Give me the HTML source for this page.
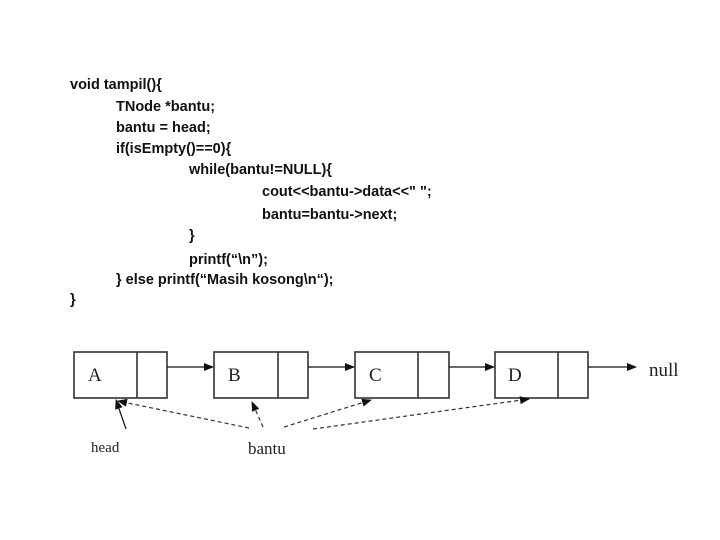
<!DOCTYPE html>
<html><head><meta charset="utf-8"><style>
body{margin:0;background:#fff;width:720px;height:540px;overflow:hidden;position:relative}
.c{position:absolute;font-family:"Liberation Sans",sans-serif;font-weight:bold;font-size:14.5px;color:#111;white-space:pre;line-height:16px}
</style></head><body>
<div class="c" style="left:70px;top:77px">void tampil(){</div>
<div class="c" style="left:116px;top:99px">TNode *bantu;</div>
<div class="c" style="left:116px;top:120px">bantu = head;</div>
<div class="c" style="left:116px;top:141px">if(isEmpty()==0){</div>
<div class="c" style="left:189px;top:162px">while(bantu!=NULL){</div>
<div class="c" style="left:262px;top:184px">cout&lt;&lt;bantu-&gt;data&lt;&lt;" ";</div>
<div class="c" style="left:262px;top:207px">bantu=bantu-&gt;next;</div>
<div class="c" style="left:189px;top:228px">}</div>
<div class="c" style="left:189px;top:252px">printf(“\n”);</div>
<div class="c" style="left:116px;top:272px">} else printf(“Masih kosong\n“);</div>
<div class="c" style="left:70px;top:292px">}</div>
<svg width="720" height="540" style="position:absolute;left:0;top:0" font-family="Liberation Serif,serif">
<defs><marker id="a" markerWidth="10" markerHeight="8" refX="9" refY="4" orient="auto" markerUnits="userSpaceOnUse"><path d="M0,0L10,4L0,8z" fill="#111"/></marker></defs>
<g fill="none" stroke="#333" stroke-width="1.6">
<rect x="74" y="352" width="93" height="46"/><line x1="137" y1="352" x2="137" y2="398"/>
<rect x="214" y="352" width="94" height="46"/><line x1="278" y1="352" x2="278" y2="398"/>
<rect x="355" y="352" width="94" height="46"/><line x1="418" y1="352" x2="418" y2="398"/>
<rect x="495" y="352" width="93" height="46"/><line x1="558" y1="352" x2="558" y2="398"/>
</g>
<g stroke="#111" stroke-width="1.2" marker-end="url(#a)">
<line x1="167" y1="367" x2="213" y2="367"/>
<line x1="308" y1="367" x2="354" y2="367"/>
<line x1="449" y1="367" x2="494" y2="367"/>
<line x1="588" y1="367" x2="636" y2="367"/>
<line x1="126" y1="429" x2="116" y2="400"/>
</g>
<g stroke="#333" stroke-width="1.2" stroke-dasharray="4,3" marker-end="url(#a)">
<line x1="249" y1="428" x2="118" y2="401"/>
<line x1="263" y1="427" x2="252" y2="402"/>
<line x1="284" y1="427" x2="371" y2="400"/>
<line x1="313" y1="429" x2="529" y2="399"/>
</g>
<g font-size="19" fill="#222">
<text x="88" y="381">A</text><text x="228" y="381">B</text><text x="369" y="381">C</text><text x="508" y="381">D</text>
<text x="649" y="376">null</text>
</g>
<text x="91" y="452" font-size="15" fill="#222">head</text>
<text x="248" y="454" font-size="17" fill="#222">bantu</text>
</svg>
</body></html>
